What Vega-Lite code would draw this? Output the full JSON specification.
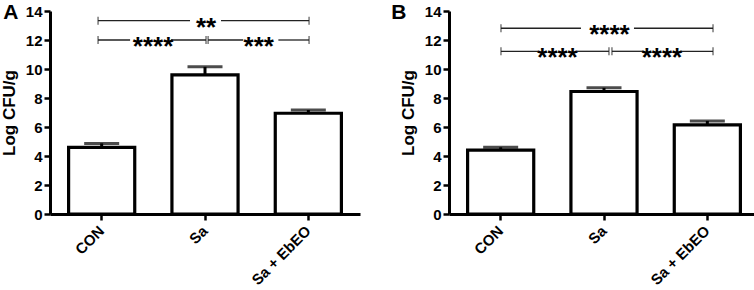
{
  "$schema": "https://vega.github.io/schema/vega-lite/v6.json",
  "background": "white",
  "padding": {"left": 0, "top": 2, "right": 0, "bottom": 0},
  "bounds": "flush",
  "spacing": 89,
  "config": {
    "view": {"stroke": null},
    "font": "Liberation Sans",
    "axis": {
      "domainColor": "black", "domainWidth": 3, "tickColor": "black", "tickWidth": 2.5, "tickSize": 6,
      "labelFont": "Liberation Sans", "labelFontWeight": "bold", "labelFontSize": 15, "labelColor": "black",
      "titleFont": "Liberation Sans", "titleFontWeight": "bold", "titleFontSize": 17, "titleColor": "black",
      "grid": false, "labelOverlap": false, "labelFlush": false
    },
    "title": {"font": "Liberation Sans", "fontWeight": "bold", "fontSize": 21, "color": "black", "anchor": "start", "frame": "bounds"}
  },
  "datasets": {
    "barsA": [
      {"group": "CON", "mean": 4.6, "upper": 4.87},
      {"group": "Sa", "mean": 9.6, "upper": 10.15},
      {"group": "Sa + EbEO", "mean": 6.95, "upper": 7.17}
    ],
    "segA": [
      {"x": 0.465, "x2": 1.355, "y": 13.33},
      {"x": 1.655, "x2": 2.507, "y": 13.33},
      {"x": 0.465, "x2": 0.775, "y": 12.0},
      {"x": 1.17, "x2": 1.51, "y": 12.0},
      {"x": 1.53, "x2": 1.87, "y": 12.0},
      {"x": 2.21, "x2": 2.507, "y": 12.0}
    ],
    "endA": [
      {"x": 0.465, "y": 13.33}, {"x": 2.507, "y": 13.33},
      {"x": 0.465, "y": 12.0}, {"x": 1.51, "y": 12.0}, {"x": 1.53, "y": 12.0}, {"x": 2.507, "y": 12.0}
    ],
    "starA": [
      {"x": 1.51, "y": 13.33, "label": "**"},
      {"x": 0.997, "y": 12.0, "label": "****"},
      {"x": 2.02, "y": 12.0, "label": "***"}
    ],
    "barsB": [
      {"group": "CON", "mean": 4.4, "upper": 4.6},
      {"group": "Sa", "mean": 8.45, "upper": 8.7},
      {"group": "Sa + EbEO", "mean": 6.15, "upper": 6.42}
    ],
    "segB": [
      {"x": 0.503, "x2": 1.277, "y": 12.81},
      {"x": 1.79, "x2": 2.555, "y": 12.81},
      {"x": 0.503, "x2": 0.861, "y": 11.22},
      {"x": 1.239, "x2": 1.548, "y": 11.22},
      {"x": 1.577, "x2": 1.877, "y": 11.22},
      {"x": 2.245, "x2": 2.555, "y": 11.22}
    ],
    "endB": [
      {"x": 0.503, "y": 12.81}, {"x": 2.555, "y": 12.81},
      {"x": 0.503, "y": 11.22}, {"x": 1.548, "y": 11.22}, {"x": 1.577, "y": 11.22}, {"x": 2.555, "y": 11.22}
    ],
    "starB": [
      {"x": 1.553, "y": 12.81, "label": "****"},
      {"x": 1.05, "y": 11.22, "label": "****"},
      {"x": 2.061, "y": 11.22, "label": "****"}
    ]
  },
  "hconcat": [
    {
      "width": 310, "height": 203,
      "title": {"text": "A", "dy": 23, "dx": 3},
      "layer": [
        {
          "data": {"name": "barsA"},
          "layer": [
            {"mark": {"type": "rule", "color": "black", "strokeWidth": 3},
             "encoding": {"x": {"field": "group", "type": "nominal", "sort": null, "title": null},
                          "y": {"field": "mean", "type": "quantitative", "title": "Log CFU/g", "axis": {"values": [0, 2, 4, 6, 8, 10, 12, 14], "titlePadding": 7, "labelPadding": 2}},
                          "y2": {"field": "upper"}}},
            {"mark": {"type": "tick", "orient": "horizontal", "size": 35, "thickness": 3, "color": "black"},
             "encoding": {"x": {"field": "group", "type": "nominal", "sort": null, "title": null},
                          "y": {"field": "upper", "type": "quantitative", "title": "Log CFU/g", "axis": {"values": [0, 2, 4, 6, 8, 10, 12, 14], "titlePadding": 7, "labelPadding": 2}}}},
            {"mark": {"type": "bar", "fill": "white", "stroke": "black", "strokeWidth": 3.2},
             "encoding": {
               "x": {"field": "group", "type": "nominal", "sort": null, "title": null,
                     "scale": {"paddingInner": 0.36, "paddingOuter": 0.18},
                     "axis": {"labelAngle": -45, "labelPadding": 8}},
               "y": {"field": "mean", "type": "quantitative", "title": "Log CFU/g",
                     "scale": {"domain": [0, 14], "nice": false},
                     "axis": {"values": [0, 2, 4, 6, 8, 10, 12, 14], "titlePadding": 7, "labelPadding": 2}}
             }}
          ]
        },
        {
          "layer": [
            {"data": {"name": "segA"}, "mark": {"type": "rule", "color": "#222", "strokeWidth": 1.3},
             "encoding": {"x": {"field": "x", "type": "quantitative", "scale": {"domain": [0, 3], "nice": false, "zero": false}, "axis": null},
                          "x2": {"field": "x2"},
                          "y": {"field": "y", "type": "quantitative", "title": "Log CFU/g", "axis": {"values": [0, 2, 4, 6, 8, 10, 12, 14], "titlePadding": 7, "labelPadding": 2}}}},
            {"data": {"name": "endA"}, "mark": {"type": "tick", "orient": "vertical", "size": 8, "thickness": 1.3, "color": "#222"},
             "encoding": {"x": {"field": "x", "type": "quantitative", "scale": {"domain": [0, 3], "nice": false, "zero": false}, "axis": null},
                          "y": {"field": "y", "type": "quantitative", "title": "Log CFU/g", "axis": {"values": [0, 2, 4, 6, 8, 10, 12, 14], "titlePadding": 7, "labelPadding": 2}}}},
            {"data": {"name": "starA"}, "mark": {"type": "text", "fontSize": 26, "fontWeight": "bold", "baseline": "alphabetic", "dy": 15, "color": "black", "font": "Liberation Sans"},
             "encoding": {"x": {"field": "x", "type": "quantitative", "scale": {"domain": [0, 3], "nice": false, "zero": false}, "axis": null},
                          "y": {"field": "y", "type": "quantitative", "title": "Log CFU/g", "axis": {"values": [0, 2, 4, 6, 8, 10, 12, 14], "titlePadding": 7, "labelPadding": 2}},
                          "text": {"field": "label"}}}
          ]
        }
      ],
      "resolve": {"scale": {"x": "independent"}}
    },
    {
      "width": 310, "height": 203,
      "title": {"text": "B", "dy": 23, "dx": -8},
      "layer": [
        {
          "data": {"name": "barsB"},
          "layer": [
            {"mark": {"type": "rule", "color": "black", "strokeWidth": 3},
             "encoding": {"x": {"field": "group", "type": "nominal", "sort": null, "title": null},
                          "y": {"field": "mean", "type": "quantitative", "title": "Log CFU/g", "axis": {"values": [0, 2, 4, 6, 8, 10, 12, 14], "titlePadding": 7, "labelPadding": 2}},
                          "y2": {"field": "upper"}}},
            {"mark": {"type": "tick", "orient": "horizontal", "size": 35, "thickness": 3, "color": "black"},
             "encoding": {"x": {"field": "group", "type": "nominal", "sort": null, "title": null},
                          "y": {"field": "upper", "type": "quantitative", "title": "Log CFU/g", "axis": {"values": [0, 2, 4, 6, 8, 10, 12, 14], "titlePadding": 7, "labelPadding": 2}}}},
            {"mark": {"type": "bar", "fill": "white", "stroke": "black", "strokeWidth": 3.2},
             "encoding": {
               "x": {"field": "group", "type": "nominal", "sort": null, "title": null,
                     "scale": {"paddingInner": 0.36, "paddingOuter": 0.18},
                     "axis": {"labelAngle": -45, "labelPadding": 8}},
               "y": {"field": "mean", "type": "quantitative", "title": "Log CFU/g",
                     "scale": {"domain": [0, 14], "nice": false},
                     "axis": {"values": [0, 2, 4, 6, 8, 10, 12, 14], "titlePadding": 7, "labelPadding": 2}}
             }}
          ]
        },
        {
          "layer": [
            {"data": {"name": "segB"}, "mark": {"type": "rule", "color": "#222", "strokeWidth": 1.3},
             "encoding": {"x": {"field": "x", "type": "quantitative", "scale": {"domain": [0, 3], "nice": false, "zero": false}, "axis": null},
                          "x2": {"field": "x2"},
                          "y": {"field": "y", "type": "quantitative", "title": "Log CFU/g", "axis": {"values": [0, 2, 4, 6, 8, 10, 12, 14], "titlePadding": 7, "labelPadding": 2}}}},
            {"data": {"name": "endB"}, "mark": {"type": "tick", "orient": "vertical", "size": 8, "thickness": 1.3, "color": "#222"},
             "encoding": {"x": {"field": "x", "type": "quantitative", "scale": {"domain": [0, 3], "nice": false, "zero": false}, "axis": null},
                          "y": {"field": "y", "type": "quantitative", "title": "Log CFU/g", "axis": {"values": [0, 2, 4, 6, 8, 10, 12, 14], "titlePadding": 7, "labelPadding": 2}}}},
            {"data": {"name": "starB"}, "mark": {"type": "text", "fontSize": 26, "fontWeight": "bold", "baseline": "alphabetic", "dy": 15, "color": "black", "font": "Liberation Sans"},
             "encoding": {"x": {"field": "x", "type": "quantitative", "scale": {"domain": [0, 3], "nice": false, "zero": false}, "axis": null},
                          "y": {"field": "y", "type": "quantitative", "title": "Log CFU/g", "axis": {"values": [0, 2, 4, 6, 8, 10, 12, 14], "titlePadding": 7, "labelPadding": 2}},
                          "text": {"field": "label"}}}
          ]
        }
      ],
      "resolve": {"scale": {"x": "independent"}}
    }
  ]
}
